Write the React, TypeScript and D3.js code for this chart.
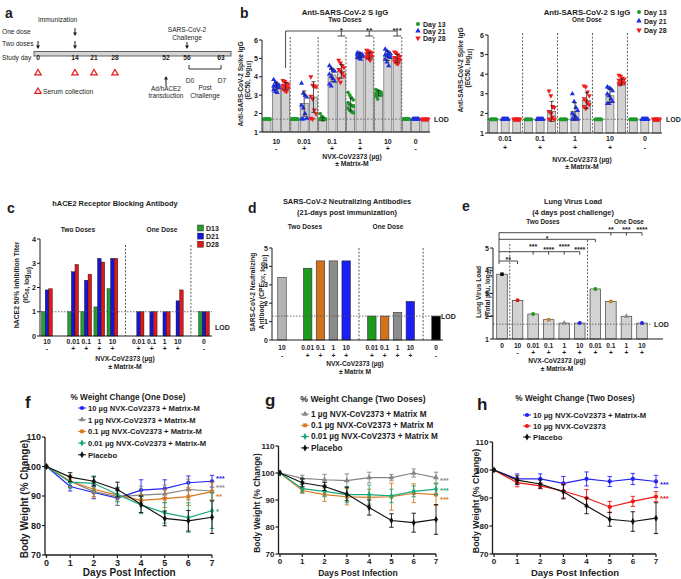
import React from 'react';
import * as d3 from 'd3';

const FONT = "'Liberation Sans', Arial, Helvetica, sans-serif";
const INK = '#1c1c1c';

// ---------------- a : study design ----------------
const aDayTicks = [0, 14, 21, 28, 52, 56, 63];
const aSerumDays = [0, 14, 21, 28];
const aTwoDoseDays = [0, 14];
const aOneDoseDays = [14];
const aChallengeDay = 56;
const aTransductionDay = 52;
const aPostDays = [56, 63];
const aPostLabels = ['D0', 'D7'];

// ---------------- b : anti-S IgG ----------------
const bDayNames = ['Day 13', 'Day 21', 'Day 28'];
const bDayColors = ['#1e9a2a', '#1f2fe0', '#f01c1c'];
const bLOD = 1.7;
const bTicks = [1, 2, 3, 4, 5, 6];
const L = 1.7;
const bTwoGroups = ['10', '0.01', '0.1', '1', '10', '0'];
const bTwoMatrix = ['-', '+', '+', '+', '+', '-'];
const bTwoMeans = [
  [1.7, 3.5, 3.5],
  [1.7, 2.55, 2.9],
  [1.7, 4.1, 4.3],
  [2.5, 5.15, 5.15],
  [3.1, 5.15, 5.0],
  [1.7, 1.7, 1.7],
];
const bTwoPoints = [
  [[L, L, L, L, L, L, L, L, L, L], [3.85, 3.7, 3.6, 3.55, 3.5, 3.5, 3.45, 3.4, 3.3, 3.2, 3.15], [3.8, 3.75, 3.65, 3.6, 3.55, 3.5, 3.45, 3.4, 3.35, 3.25, 3.2]],
  [[L, L, L, L, L, L, L, L, L, L], [3.65, 3.1, 3.0, 2.9, 2.45, 2.3, 2.0, 1.75, 1.7, 1.7], [4.0, 3.55, 3.5, 3.45, 2.95, 2.8, 2.2, 2.0, 1.75, 1.7]],
  [[2.0, 1.85, 1.75, L, L, L, L, L, L, L], [4.6, 4.45, 4.35, 4.3, 4.15, 4.0, 3.9, 3.75, 3.6, 3.5], [4.9, 4.75, 4.6, 4.5, 4.4, 4.3, 4.2, 4.05, 3.9, 3.7]],
  [[3.15, 3.0, 2.85, 2.75, 2.6, 2.5, 2.45, 2.4, 2.3, 2.2, 2.1, 2.05], [5.3, 5.28, 5.25, 5.2, 5.2, 5.15, 5.1, 5.1, 5.05, 5.0, 4.95], [5.45, 5.4, 5.35, 5.3, 5.25, 5.2, 5.15, 5.1, 5.05, 5.0, 4.9]],
  [[3.3, 3.25, 3.2, 3.15, 3.1, 3.1, 3.05, 3.0, 2.95, 2.8], [5.5, 5.4, 5.3, 5.25, 5.2, 5.15, 5.1, 5.05, 4.95, 4.8, 4.6], [5.35, 5.3, 5.2, 5.1, 5.05, 5.0, 4.95, 4.9, 4.85, 4.75, 4.7]],
  [[L, L, L, L, L, L, L, L, L, L], [L, L, L, L, L, L, L, L, L, L], [L, L, L, L, L, L, L, L, L, L]],
];
const bTwoSigRef = 0;
const bTwoSigGroups = [2, 3, 4];
const bTwoSigLabels = ['*', '**', '***'];

const bOneGroups = ['0.01', '0.1', '1', '10', '0'];
const bOneMatrix = ['+', '+', '+', '+', '-'];
const bOneMeans = [
  [1.7, 1.7, 1.7],
  [1.7, 1.7, 2.1],
  [1.7, 2.1, 2.65],
  [1.7, 2.9, 3.6],
  [1.7, 1.7, 1.7],
];
const bOnePoints = [
  [[L, L, L, L, L, L, L, L, L, L], [L, L, L, L, L, L, L, L, L, L], [L, L, L, L, L, L, L, L, L, L]],
  [[L, L, L, L, L, L, L, L, L, L], [L, L, L, L, L, L, L, L, L, L], [3.15, 2.9, 2.35, 2.3, 2.1, 2.0, 1.8, 1.7, 1.7, 1.7]],
  [[L, L, L, L, L, L, L, L, L, L], [3.0, 2.6, 2.3, 2.15, 2.0, 1.9, 1.8, 1.7, 1.7, 1.7], [3.4, 3.35, 3.1, 2.9, 2.75, 2.65, 2.55, 2.45, 2.35, 2.25]],
  [[L, L, L, L, L, L, L, L, L, L], [3.35, 3.3, 3.25, 3.15, 3.0, 2.9, 2.75, 2.6, 2.5, 2.5], [3.95, 3.9, 3.8, 3.75, 3.7, 3.65, 3.6, 3.55, 3.5, 3.5]],
  [[L, L, L, L, L, L, L, L, L, L], [L, L, L, L, L, L, L, L, L, L], [L, L, L, L, L, L, L, L, L, L]],
];

// ---------------- c : hACE2 blocking ----------------
const cGroups = ['10', '0.01', '0.1', '1', '10', '0.01', '0.1', '1', '10', '0'];
const cMatrix = ['-', '+', '+', '+', '+', '+', '+', '+', '+', '-'];
const cSections = ['two-', 'two+', 'two+', 'two+', 'two+', 'one', 'one', 'one', 'one', 'none'];
const cDayNames = ['D13', 'D21', 'D28'];
const cDayColors = ['#22a02a', '#1515d6', '#e01818'];
const cD13 = [1, 1, 1, 1.2, 1.95, null, null, null, null, 1];
const cD21 = [1.9, 2.65, 2.3, 3.2, 3.2, 1, 1, 1, 1.45, 1];
const cD28 = [1.95, 2.95, 2.55, 3.05, 3.2, 1, 1, 1, 1.9, 1];
const cTicks = [0, 1, 2, 3, 4];
const cLOD = 1;

// ---------------- d : neutralizing ----------------
const dGroups = ['10', '0.01', '0.1', '1', '10', '0.01', '0.1', '1', '10', '0'];
const dMatrix = ['-', '+', '+', '+', '+', '+', '+', '+', '+', '-'];
const dSections = ['two-', 'two+', 'two+', 'two+', 'two+', 'one', 'one', 'one', 'one', 'none'];
const dValues = [3.4, 3.9, 4.3, 4.3, 4.3, 1.3, 1.3, 1.5, 2.1, 1.3];
const dColors = ['#b4b4b4', '#1b9a1b', '#d2721c', '#8c8c8c', '#1c1cf5', '#1b9a1b', '#d2721c', '#8c8c8c', '#1c1cf5', '#000000'];
const dTicks = [0, 1, 2, 3, 4, 5];
const dLOD = 1.3;

// ---------------- e : lung virus load ----------------
const eGroups = ['0', '10', '0.01', '0.1', '1', '10', '0.01', '0.1', '1', '10'];
const eMatrix = ['', '-', '+', '+', '+', '+', '+', '+', '+', '+'];
const eValues = [3.85, 2.7, 2.1, 1.85, 1.7, 1.7, 3.2, 2.65, 2.0, 1.7];
const eColors = ['#000000', '#d81818', '#1b9a1b', '#c8802a', '#8c8c8c', '#1c1cf5', '#1b9a1b', '#c8802a', '#8c8c8c', '#1c1cf5'];
const eTicks = [1, 2, 3, 4, 5];
const eLOD = 1.65;
const eSigRows = [
  { targets: [7, 8, 9], labels: ['**', '***', '****'] },
  { targets: [6], labels: ['*'] },
  { targets: [2, 3, 4, 5], labels: ['***', '****', '****', '****'] },
  { targets: [1], labels: ['**'] },
];

// ---------------- f, g, h : weight change ----------------
const wDays = [0, 1, 2, 3, 4, 5, 6, 7];
const wTicksY = [70, 80, 90, 100, 110];
const placeboMean = [100, 96.4, 95, 92.2, 87.2, 82.4, 81.6, 82.8];
const placeboSD = [0, 1.5, 1.5, 2.5, 2.8, 2.5, 3.5, 5.5];

const fLabels = ['10 µg NVX-CoV2373 + Matrix-M', '1 µg NVX-CoV2373  + Matrix-M', '0.1 µg NVX-CoV2373  + Matrix-M', '0.01 µg NVX-CoV2373 + Matrix-M', 'Placebo'];
const f10Mean = [100, 93.2, 91.2, 89.3, 92, 92.5, 94.5, 95];
const f10SD = [0, 1.5, 2, 2.5, 3.5, 3, 2.3, 2];
const f1Mean = [100, 95, 91.5, 89.8, 90.3, 90.7, 92.2, 91.7];
const f1SD = [0, 2, 2.5, 3, 3, 3, 3.5, 3];
const f01Mean = [100, 95, 92.3, 90.3, 88.5, 89.1, 89.8, 91.5];
const f01SD = [0, 2, 2.5, 2, 2, 3, 3, 3];
const f001Mean = [100, 94.7, 94.3, 90.5, 87, 84.3, 82.7, 85];
const f001SD = [0, 2, 2.5, 2.5, 3, 3.5, 5, 6];
const fSig = ['***', '***', '**', '*', ''];

const gLabels = ['1 µg NVX-CoV2373 + Matrix M', '0.1 µg NVX-CoV2373 + Matrix M', '0.01 µg NVX-CoV2373 + Matrix M', 'Placebo'];
const g1Mean = [100, 98, 97.5, 97.2, 98.3, 98.3, 100, 98.3];
const g1SD = [0, 1.2, 2, 2.5, 2, 1.2, 1.5, 2];
const g01Mean = [100, 93.5, 92, 91.2, 91, 91.2, 92.5, 92];
const g01SD = [0, 1, 2.5, 3, 3, 5, 3.5, 4];
const g001Mean = [100, 94.2, 93.2, 92, 92, 91.5, 93.2, 94];
const g001SD = [0, 1.5, 2, 3, 3.5, 2.5, 2, 2];
const gSig = ['***', '***', '***', ''];

const hLabels = ['10 µg NVX-CoV2373 + Matrix-M', '10 µg NVX-CoV2373', 'Placebo'];
const h10MMean = [100, 96.8, 96.8, 95.2, 96.8, 95.9, 96.8, 95.9];
const h10MSD = [0, 1.8, 1.8, 2.5, 2.5, 1.8, 2, 2.2];
const h10Mean = [100, 95.5, 94.3, 92.5, 90, 86.8, 88.8, 90.5];
const h10SD = [0, 1.5, 1, 2.5, 3, 2, 1.8, 1.8];
const hSig = ['***', '***', ''];

// ---------------- helpers ----------------
const T = ({ x, y, s = 7, a = 'start', w = 'bold', c = INK, rot, children }: any) => (
  <text
    x={rot !== undefined ? 0 : x}
    y={rot !== undefined ? 0 : y}
    transform={rot !== undefined ? `translate(${x},${y}) rotate(${rot})` : undefined}
    fontSize={s}
    textAnchor={a}
    fontWeight={w}
    fill={c}
    stroke="none"
    fontFamily={FONT}
  >
    {children}
  </text>
);

const Sub = ({ s, children }: any) => (
  <>
    <tspan dy={s * 0.25} fontSize={s * 0.7}>{children}</tspan>
    <tspan dy={-s * 0.25}>{''}</tspan>
  </>
);

const Sym = ({ x, y, type, size = 10, fill, rot = 0 }: any) => {
  const d = d3.symbol().type(type).size(size)() as string;
  return <path d={d} transform={`translate(${x},${y}) rotate(${rot})`} fill={fill} stroke="none" />;
};

const dayTypes = [d3.symbolCircle, d3.symbolTriangle, d3.symbolTriangle];
const dayRot = [0, 0, 180];

// ---------------- panel a ----------------
function PanelA() {
  const x = d3.scaleLinear().domain(aDayTicks).range([38, 75, 94, 115, 166, 187, 221]);
  const down = (cx: number, y1: number, y2: number, k: string) => (
    <g key={k}>
      <line x1={cx} x2={cx} y1={y1} y2={y2 - 3} stroke={INK} strokeWidth={1} />
      <path d={`M${cx - 2},${y2 - 3.5}L${cx + 2},${y2 - 3.5}L${cx},${y2}Z`} fill={INK} />
    </g>
  );
  const tri = (cx: number, cy: number, k: string) => (
    <path key={k} d={`M${cx},${cy - 3}L${cx + 3.2},${cy + 2.4}L${cx - 3.2},${cy + 2.4}Z`} fill="none" stroke="#e41c1c" strokeWidth={1.2} />
  );
  const td = x(aTransductionDay);
  return (
    <g>
      <T x={5} y={18} s={14}>a</T>
      <T x={38} y={21.5} s={6.6} w="normal">Immunization</T>
      <T x={2} y={34} s={6.6} w="normal">One dose</T>
      <T x={2} y={45.5} s={6.6} w="normal">Two doses</T>
      {aOneDoseDays.map((d) => down(x(d), 28, 36, 'o' + d))}
      {aTwoDoseDays.map((d) => down(x(d), 41, 49, 't' + d))}
      <T x={x(aChallengeDay)} y={32} s={6.6} w="normal" a="middle">SARS-CoV-2</T>
      <T x={x(aChallengeDay)} y={40} s={6.6} w="normal" a="middle">Challenge</T>
      {down(x(aChallengeDay), 42, 49, 'ch')}
      <rect x={34} y={51.5} width={197} height={4.5} fill="#d4d4d4" stroke="#444" strokeWidth={0.8} />
      <T x={2} y={60} s={6.6} w="normal">Study day</T>
      {aDayTicks.map((d) => (
        <T key={d} x={x(d)} y={60} s={6.6} a="middle">{d}</T>
      ))}
      {aSerumDays.map((d) => tri(x(d), 72.5, 's' + d))}
      {tri(38, 91, 'leg')}
      <T x={43} y={93.5} s={6.8} w="normal">Serum collection</T>
      <line x1={td} x2={td} y1={86} y2={79} stroke={INK} strokeWidth={1} />
      <path d={`M${td - 2},${79.5}L${td + 2},${79.5}L${td},${76}Z`} fill={INK} />
      <T x={td} y={90.5} s={6.4} w="normal" a="middle">Ad/hACE2</T>
      <T x={td} y={97.5} s={6.4} w="normal" a="middle">transduction</T>
      <path d={`M${x(aPostDays[0]) + 2},65V69H${x(aPostDays[1])}V65`} fill="none" stroke={INK} strokeWidth={0.9} />
      {aPostDays.map((d, i) => (
        <T key={d} x={i === 0 ? x(d) + 3 : x(d) + 1} y={83} s={6.6} w="normal" a="middle">{aPostLabels[i]}</T>
      ))}
      <T x={(x(aPostDays[0]) + x(aPostDays[1])) / 2 + 1} y={89.5} s={6.6} w="normal" a="middle">Post</T>
      <T x={(x(aPostDays[0]) + x(aPostDays[1])) / 2 + 1} y={97.5} s={6.6} w="normal" a="middle">Challenge</T>
    </g>
  );
}

// ---------------- panel b ----------------
function IgGPanel(p: any) {
  const y = d3.scaleLinear().domain([1, 6]).range([p.yBot, p.yTop]);
  const n = p.groups.length * 3;
  const x = d3.scalePoint<number>().domain(d3.range(n)).range([p.x0, p.x1]);
  const step = x.step();
  const bw = p.bw;
  const bars = p.means.flatMap((g: number[], gi: number) =>
    g.map((m: number, di: number) => ({ gi, di, m, pts: p.points[gi][di] as number[], cx: x(gi * 3 + di) as number }))
  );
  return (
    <g>
      {d3.range(1, p.groups.length).map((gi) => {
        const sx = (x(gi * 3) as number) - step / 2;
        return <line key={gi} x1={sx} x2={sx} y1={p.sepTop} y2={p.yBot} stroke="#333" strokeWidth={0.8} strokeDasharray="2,1.6" />;
      })}
      {bars.map((b: any) => (
        <rect key={`r${b.gi}-${b.di}`} x={b.cx - bw / 2} y={y(b.m)} width={bw} height={p.yBot - y(b.m)} fill="#d2d2d2" stroke="#555" strokeWidth={0.6} />
      ))}
      <line x1={p.axisX} x2={p.axisEnd} y1={y(bLOD)} y2={y(bLOD)} stroke="#666" strokeWidth={0.8} strokeDasharray="2,1.5" />
      {bars.map((b: any) => {
        const pts = [...b.pts].sort((u, v) => v - u);
        const allLod = pts.every((v) => v === bLOD);
        return pts.map((v, i) => {
          const off = allLod ? ((i + 0.5) / pts.length - 0.5) * bw * 0.85 : ((i % 4) - 1.5) * bw * 0.22;
          return <Sym key={`p${b.gi}-${b.di}-${i}`} x={b.cx + off} y={y(v)} type={dayTypes[b.di]} rot={dayRot[b.di]} size={11} fill={bDayColors[b.di]} />;
        });
      })}
      {bars.map((b: any) => {
        const sd = d3.deviation(b.pts as number[]) || 0;
        if (sd < 0.03) return null;
        const y1 = y(b.m - sd), y2 = y(b.m + sd);
        return (
          <g key={`e${b.gi}-${b.di}`} stroke="#222" strokeWidth={0.8}>
            <line x1={b.cx} x2={b.cx} y1={y1} y2={y2} />
            <line x1={b.cx - 2} x2={b.cx + 2} y1={y1} y2={y1} />
            <line x1={b.cx - 2} x2={b.cx + 2} y1={y2} y2={y2} />
          </g>
        );
      })}
      <line x1={p.axisX} x2={p.axisX} y1={p.yTop} y2={p.yBot} stroke={INK} strokeWidth={1} />
      <line x1={p.axisX} x2={p.axisEnd} y1={p.yBot} y2={p.yBot} stroke={INK} strokeWidth={1} />
      {bTicks.map((t) => (
        <g key={t}>
          <line x1={p.axisX - 3} x2={p.axisX} y1={y(t)} y2={y(t)} stroke={INK} strokeWidth={1} />
          <T x={p.axisX - 4} y={y(t) + 2.5} a="end" s={7}>{t}</T>
        </g>
      ))}
      {p.groups.map((g: string, gi: number) => (
        <g key={gi}>
          <T x={x(gi * 3 + 1)} y={p.numY} a="middle" s={7}>{g}</T>
          <T x={x(gi * 3 + 1)} y={p.signY} a="middle" s={7}>{p.matrix[gi]}</T>
        </g>
      ))}
      <T x={p.axisEnd + 4} y={y(bLOD) + 2.5} s={7}>LOD</T>
      {bDayNames.map((d, i) => (
        <g key={d}>
          <Sym x={p.legX} y={p.legY + i * p.legStep} type={dayTypes[i]} rot={dayRot[i]} size={13} fill={bDayColors[i]} />
          <T x={p.legX + 5} y={p.legY + i * p.legStep + 2.5} s={7}>{d}</T>
        </g>
      ))}
      {p.sig && (() => {
        const rx = x(bTwoSigRef * 3 + 2) as number;
        const tx = bTwoSigGroups.map((g) => x(g * 3 + 2) as number);
        const ly = 31;
        return (
          <g>
            <g stroke={INK} strokeWidth={0.8} fill="none">
              <line x1={rx} x2={tx[tx.length - 1]} y1={ly} y2={ly} />
              <line x1={rx} x2={rx} y1={ly} y2={68} />
              {tx.map((t, i) => (
                <g key={i}>
                  <line x1={t} x2={t} y1={ly} y2={ly + 5} />
                  <line x1={t - 4} x2={t + 4} y1={ly + 5} y2={ly + 5} />
                </g>
              ))}
            </g>
            {tx.map((t, i) => (
              <T key={'l' + i} x={t} y={ly + 1.5} a="middle" s={8}>{bTwoSigLabels[i]}</T>
            ))}
          </g>
        );
      })()}
    </g>
  );
}

// ---------------- slot layout helper for c / d ----------------
function slotLayout(sections: string[]) {
  const slots: string[] = [];
  const groupSlot: string[] = [];
  const gapSlots: string[] = [];
  sections.forEach((s, i) => {
    if (i > 0 && s !== sections[i - 1]) {
      const g = 'gap' + i;
      slots.push(g);
      gapSlots.push(g);
    }
    slots.push('g' + i);
    groupSlot.push('g' + i);
  });
  return { slots, groupSlot, gapSlots };
}

function PanelC() {
  const { slots, groupSlot, gapSlots } = slotLayout(cSections);
  const x = d3.scalePoint<string>().domain(slots).range([47, 204]);
  const y = d3.scaleLinear().domain([0, 4]).range([336, 239]);
  const inner = d3.scaleBand<number>().domain([0, 1, 2]).range([-5.4, 5.4]);
  const series = [cD13, cD21, cD28];
  return (
    <g>
      <T x={7} y={213} s={14}>c</T>
      <T x={115} y={206} a="middle" s={7.4}>hACE2 Receptor Blocking Antibody</T>
      <T x={78} y={232} a="middle" s={6.6}>Two Doses</T>
      <T x={162} y={232} a="middle" s={6.6}>One Dose</T>
      {gapSlots.slice(1).map((g) => (
        <line key={g} x1={x(g)} x2={x(g)} y1={245} y2={336} stroke="#333" strokeWidth={0.8} strokeDasharray="2,1.6" />
      ))}
      {groupSlot.map((gs, gi) =>
        series.map((s, di) => {
          const v = s[gi];
          if (v === null || v === undefined) return null;
          const bx = (x(gs) as number) + (inner(di) as number);
          return <rect key={gs + di} x={bx} y={y(v)} width={inner.bandwidth()} height={336 - y(v)} fill={cDayColors[di]} stroke="#111" strokeWidth={0.4} />;
        })
      )}
      <line x1={40} x2={212} y1={y(cLOD)} y2={y(cLOD)} stroke="#555" strokeWidth={0.8} strokeDasharray="1.5,1.5" />
      <line x1={40} x2={40} y1={239} y2={336} stroke={INK} strokeWidth={1} />
      <line x1={40} x2={212} y1={336} y2={336} stroke={INK} strokeWidth={1} />
      {cTicks.map((t) => (
        <g key={t}>
          <line x1={37} x2={40} y1={y(t)} y2={y(t)} stroke={INK} />
          <T x={36} y={y(t) + 2.5} a="end" s={7.2}>{t}</T>
        </g>
      ))}
      {groupSlot.map((gs, gi) => (
        <g key={gs}>
          <T x={x(gs)} y={343.5} a="middle" s={6.8}>{cGroups[gi]}</T>
          <T x={x(gs)} y={351} a="middle" s={6.8}>{cMatrix[gi]}</T>
        </g>
      ))}
      <T x={125} y={361} a="middle" s={6.8}>NVX-CoV2373 (µg)</T>
      <T x={125} y={369} a="middle" s={6.8}>± Matrix-M</T>
      <T x={215} y={330} s={7}>LOD</T>
      {cDayNames.map((d, i) => (
        <g key={d}>
          <rect x={197.5} y={225 + i * 8.1} width={6} height={6} fill={cDayColors[i]} stroke="#111" strokeWidth={0.4} />
          <T x={206} y={230.5 + i * 8.1} s={7}>{d}</T>
        </g>
      ))}
      <T x={18.5} y={285} rot={-90} a="middle" s={6.8}>hACE2 50% Inhibition Titer</T>
      <T x={27.5} y={285} rot={-90} a="middle" s={6.8}>
        (IC<Sub s={6.8}>50</Sub>, log<Sub s={6.8}>10</Sub>)
      </T>
    </g>
  );
}

function PanelD() {
  const { slots, groupSlot, gapSlots } = slotLayout(dSections);
  const x = d3.scalePoint<string>().domain(slots).range([282, 436]);
  const y = d3.scaleLinear().domain([0, 5]).range([340, 248]);
  const bw = x.step() * 0.66;
  return (
    <g>
      <T x={248} y={213} s={14}>d</T>
      <T x={347} y={204} a="middle" s={7.4}>SARS-CoV-2 Neutralizing Antibodies</T>
      <T x={347} y={215} a="middle" s={7.4}>(21-days post immunization)</T>
      <T x={305} y={229} a="middle" s={6.6}>Two Doses</T>
      <T x={388} y={229} a="middle" s={6.6}>One Dose</T>
      {gapSlots.slice(1).map((g) => (
        <line key={g} x1={x(g)} x2={x(g)} y1={248} y2={340} stroke="#333" strokeWidth={0.8} strokeDasharray="2,1.6" />
      ))}
      {groupSlot.map((gs, gi) => (
        <rect key={gs} x={(x(gs) as number) - bw / 2} y={y(dValues[gi])} width={bw} height={340 - y(dValues[gi])} fill={dColors[gi]} stroke="#333" strokeWidth={0.6} />
      ))}
      <line x1={272} x2={441} y1={y(dLOD)} y2={y(dLOD)} stroke="#555" strokeWidth={0.8} strokeDasharray="1.5,1.5" />
      <line x1={272} x2={272} y1={248} y2={340} stroke={INK} strokeWidth={1} />
      <line x1={272} x2={443} y1={340} y2={340} stroke={INK} strokeWidth={1} />
      {dTicks.map((t) => (
        <g key={t}>
          <line x1={269} x2={272} y1={y(t)} y2={y(t)} stroke={INK} />
          <T x={268} y={y(t) + 2.5} a="end" s={7}>{t}</T>
        </g>
      ))}
      {groupSlot.map((gs, gi) => (
        <g key={gs}>
          <T x={x(gs)} y={350} a="middle" s={6.6}>{dGroups[gi]}</T>
          <T x={x(gs)} y={357.5} a="middle" s={6.6}>{dMatrix[gi]}</T>
        </g>
      ))}
      <T x={355} y={366} a="middle" s={6.6}>NVX-CoV2373 (µg)</T>
      <T x={355} y={374} a="middle" s={6.6}>± Matrix M</T>
      <T x={441} y={y(dLOD) + 2.5} s={7}>LOD</T>
      <T x={255} y={292} rot={-90} a="middle" s={6.6}>SARS-CoV-2 Neutralizing</T>
      <T x={263.5} y={292} rot={-90} a="middle" s={6.6}>
        Antibody (CPE<Sub s={6.6}>100</Sub>, log<Sub s={6.6}>10</Sub>)
      </T>
    </g>
  );
}

function PanelE() {
  const x = d3.scalePoint<number>().domain(d3.range(eGroups.length)).range([502, 642]);
  const y = d3.scaleLinear().domain([1, 5]).range([339, 248]);
  const step = x.step();
  const bw = step * 0.68;
  const markTypes = [d3.symbolSquare, d3.symbolCircle, d3.symbolCircle, d3.symbolSquare, d3.symbolTriangle, d3.symbolCircle, d3.symbolCircle, d3.symbolSquare, d3.symbolTriangle, d3.symbolCircle];
  const left = (x(0) as number) - 3;
  const rowY = [232.7, 239.3, 251.7, 261];
  const labelOffset = (ri: number, k: number, single: boolean) =>
    single ? (ri === 1 ? 1.4 : 0.7) : ri === 2 ? (k % 2 === 0 ? -2.7 : 0.6) : -0.4;
  return (
    <g>
      <T x={462} y={211} s={14}>e</T>
      <T x={573} y={204} a="middle" s={7.4}>Lung Virus Load</T>
      <T x={573} y={215} a="middle" s={7.4}>(4 days post challenge)</T>
      <T x={543} y={223.5} a="middle" s={6.4}>Two Doses</T>
      <T x={629} y={223.5} a="middle" s={6.4}>One Dose</T>
      {[1, 6].map((i) => {
        const sx = (x(i) as number) - step / 2;
        return <line key={i} x1={sx} x2={sx} y1={i === 1 ? 244 : 240} y2={339} stroke="#333" strokeWidth={0.8} strokeDasharray="2,1.6" />;
      })}
      {eValues.map((v, i) => (
        <rect key={i} x={(x(i) as number) - bw / 2} y={y(v)} width={bw} height={339 - y(v)} fill="#d2d2d2" stroke="#444" strokeWidth={0.7} />
      ))}
      {eValues.map((v, i) => (
        <Sym key={'m' + i} x={x(i)} y={y(v)} type={markTypes[i]} size={12} fill={eColors[i]} />
      ))}
      <line x1={493} x2={652} y1={y(eLOD)} y2={y(eLOD)} stroke="#555" strokeWidth={0.8} strokeDasharray="1.5,1.5" />
      <line x1={493} x2={493} y1={248} y2={339} stroke={INK} strokeWidth={1} />
      <line x1={493} x2={663} y1={339} y2={339} stroke={INK} strokeWidth={1} />
      {eTicks.map((t) => (
        <g key={t}>
          <line x1={490} x2={493} y1={y(t)} y2={y(t)} stroke={INK} />
          <T x={489} y={y(t) + 2.5} a="end" s={7}>{t}</T>
        </g>
      ))}
      {eGroups.map((g, i) => (
        <g key={i}>
          <T x={x(i)} y={347.5} a="middle" s={6.6}>{g}</T>
          <T x={x(i)} y={355} a="middle" s={6.6}>{eMatrix[i]}</T>
        </g>
      ))}
      <T x={557} y={362.5} a="middle" s={6.6}>NVX-CoV2373 (µg)</T>
      <T x={557} y={370.5} a="middle" s={6.6}>± Matrix-M</T>
      <T x={654} y={y(eLOD) + 2.5} s={7}>LOD</T>
      <T x={481} y={292} rot={-90} a="middle" s={6.6}>Lung Virus Load</T>
      <T x={489.5} y={292} rot={-90} a="middle" s={6.6}>
        (Total pfu, log<Sub s={6.6}>10</Sub>)
      </T>
      <g stroke={INK} strokeWidth={0.8} fill="none">
        <line x1={left} x2={left} y1={rowY[0]} y2={rowY[3] + 3} />
        {eSigRows.map((r, ri) => {
          const ly = rowY[ri];
          const txs = r.targets.map((t) => x(t) as number);
          const end = txs[txs.length - 1];
          return (
            <g key={ri}>
              <line x1={left} x2={end} y1={ly} y2={ly} />
              {txs.map((t, k) => (
                <line key={k} x1={t} x2={t} y1={ly} y2={ly + 3} />
              ))}
            </g>
          );
        })}
      </g>
      {eSigRows.map((r, ri) => {
        const ly = rowY[ri];
        const txs = r.targets.map((t) => x(t) as number);
        const end = txs[txs.length - 1];
        const single = txs.length === 1;
        return txs.map((t, k) => (
          <T key={ri + '-' + k} x={single ? (left + end) / 2 : t} y={ly + labelOffset(ri, k, single)} a="middle" s={7}>
            {r.labels[k]}
          </T>
        ));
      })}
    </g>
  );
}

// ---------------- weight panels ----------------
function WeightPanel(p: any) {
  const x = d3.scaleLinear().domain([0, 7]).range([p.x0, p.x1]);
  const y = d3.scaleLinear().domain([70, 110]).range([p.yBot, p.yTop]);
  const line = d3.line<number>().x((_, i) => x(wDays[i])).y((v) => y(v));
  const ax = p.x0 - 1.5;
  const sigSize = 7.5;
  return (
    <g>
      <T x={p.letter[1]} y={p.letter[2]} s={17}>{p.letter[0]}</T>
      <T x={p.titleX} y={p.titleY} a="middle" s={p.titleSize}>{p.title}</T>
      {p.series.map((s: any, i: number) => (
        <g key={'lg' + i}>
          <line x1={p.legX - 4} x2={p.legX + 4} y1={p.legY + i * p.legStep} y2={p.legY + i * p.legStep} stroke={s.color} strokeWidth={1} />
          <Sym x={p.legX} y={p.legY + i * p.legStep} type={s.shape} size={14} fill={s.color} />
          <T x={p.legX + 6} y={p.legY + i * p.legStep + 2.8} s={p.legSize}>{s.label}</T>
        </g>
      ))}
      {p.series.map((s: any, i: number) => (
        <g key={'s' + i}>
          <path d={line(s.mean) as string} fill="none" stroke={s.color} strokeWidth={1.2} />
          {s.mean.map((m: number, k: number) => {
            const sd = s.sd[k];
            if (!sd) return null;
            const cx = x(wDays[k]);
            return (
              <g key={k} stroke={s.color} strokeWidth={0.9}>
                <line x1={cx} x2={cx} y1={y(m - sd)} y2={y(m + sd)} />
                <line x1={cx - 2.2} x2={cx + 2.2} y1={y(m - sd)} y2={y(m - sd)} />
                <line x1={cx - 2.2} x2={cx + 2.2} y1={y(m + sd)} y2={y(m + sd)} />
              </g>
            );
          })}
          {s.mean.map((m: number, k: number) => (
            <Sym key={'p' + k} x={x(wDays[k])} y={y(m)} type={s.shape} size={14} fill={s.color} />
          ))}
          {s.sig && (
            <T x={x(7) + 4} y={y(s.mean[7]) + sigSize * 0.58 + s.sigDy} s={sigSize} c={s.color}>{s.sig}</T>
          )}
        </g>
      ))}
      <line x1={ax} x2={ax} y1={p.yTop} y2={p.yBot} stroke={INK} strokeWidth={1.3} />
      <line x1={ax} x2={p.x1} y1={p.yBot} y2={p.yBot} stroke={INK} strokeWidth={1.3} />
      {wTicksY.map((t) => (
        <g key={t}>
          <line x1={ax - 3} x2={ax} y1={y(t)} y2={y(t)} stroke={INK} strokeWidth={1.2} />
          <T x={ax - 4} y={y(t) + p.tickSize * 0.36} a="end" s={p.tickSize}>{t}</T>
        </g>
      ))}
      {wDays.map((d) => (
        <g key={d}>
          <line x1={x(d)} x2={x(d)} y1={p.yBot} y2={p.yBot + 3} stroke={INK} strokeWidth={1.2} />
          <T x={x(d)} y={p.yBot + 4 + p.tickSize * 0.8} a="middle" s={p.tickSize}>{d}</T>
        </g>
      ))}
      <T x={(p.x0 + p.x1) / 2} y={576} a="middle" s={p.xTitleSize}>Days Post Infection</T>
      <T x={p.yTitleX} y={(p.yTop + p.yBot) / 2 + 3} rot={-90} a="middle" s={p.yTitleSize}>Body Weight (% Change)</T>
    </g>
  );
}

const C_BLUE = '#2424f0';
const C_GRAY = '#858585';
const C_ORANGE = '#d9771c';
const C_GREEN = '#19a87a';
const C_BLACK = '#111111';
const C_RED = '#f01414';

export default function App() {
  const fSeries = [
    { label: fLabels[0], color: C_BLUE, shape: d3.symbolCircle, mean: f10Mean, sd: f10SD, sig: fSig[0], sigDy: -4.3 },
    { label: fLabels[1], color: C_GRAY, shape: d3.symbolTriangle, mean: f1Mean, sd: f1SD, sig: fSig[1], sigDy: -5.5 },
    { label: fLabels[2], color: C_ORANGE, shape: d3.symbolSquare, mean: f01Mean, sd: f01SD, sig: fSig[2], sigDy: 2.6 },
    { label: fLabels[3], color: C_GREEN, shape: d3.symbolDiamond, mean: f001Mean, sd: f001SD, sig: fSig[3], sigDy: -1.5 },
    { label: fLabels[4], color: C_BLACK, shape: d3.symbolDiamond, mean: placeboMean, sd: placeboSD, sig: fSig[4], sigDy: 0 },
  ];
  const gSeries = [
    { label: gLabels[0], color: C_GRAY, shape: d3.symbolTriangle, mean: g1Mean, sd: g1SD, sig: gSig[0], sigDy: 0.7 },
    { label: gLabels[1], color: C_ORANGE, shape: d3.symbolSquare, mean: g01Mean, sd: g01SD, sig: gSig[1], sigDy: 3.2 },
    { label: gLabels[2], color: C_GREEN, shape: d3.symbolDiamond, mean: g001Mean, sd: g001SD, sig: gSig[2], sigDy: -0.6 },
    { label: gLabels[3], color: C_BLACK, shape: d3.symbolDiamond, mean: placeboMean, sd: placeboSD, sig: gSig[3], sigDy: 0 },
  ];
  const hSeries = [
    { label: hLabels[0], color: C_BLUE, shape: d3.symbolCircle, mean: h10MMean, sd: h10MSD, sig: hSig[0], sigDy: 1.2 },
    { label: hLabels[1], color: C_RED, shape: d3.symbolCircle, mean: h10Mean, sd: h10SD, sig: hSig[1], sigDy: 0 },
    { label: hLabels[2], color: C_BLACK, shape: d3.symbolDiamond, mean: placeboMean, sd: placeboSD, sig: hSig[2], sigDy: 0 },
  ];
  return (
    <svg width={681} height={579} style={{ position: 'absolute', left: 0, top: 0, background: '#fff' }} fontFamily={FONT}>
      <rect width={681} height={579} fill="#fff" />
      <PanelA />
      {/* b */}
      <T x={240} y={18} s={14}>b</T>
      <T x={345} y={14.5} a="middle" s={7.8}>Anti-SARS-CoV-2 S IgG</T>
      <T x={345} y={21.5} a="middle" s={6.4}>Two Doses</T>
      <T x={242.5} y={84} rot={-90} a="middle" s={6.5}>Anti-SARS-CoV-2 Spike IgG</T>
      <T x={249.5} y={80} rot={-90} a="middle" s={6.5}>
        (EC50, log<Sub s={6.5}>10</Sub>)
      </T>
      <IgGPanel
        groups={bTwoGroups} matrix={bTwoMatrix} means={bTwoMeans} points={bTwoPoints}
        x0={267} x1={425} yTop={40} yBot={132} axisX={262} axisEnd={430} sepTop={37} bw={8}
        numY={144} signY={151} legX={418} legY={24} legStep={7} sig
      />
      <T x={352} y={159} a="middle" s={6.8}>NVX-CoV2373 (µg)</T>
      <T x={352} y={166} a="middle" s={6.8}>± Matrix-M</T>

      <T x={587} y={14.5} a="middle" s={7.8}>Anti-SARS-CoV-2 S IgG</T>
      <T x={587} y={22} a="middle" s={6.4}>One Dose</T>
      <T x={463} y={70} rot={-90} a="middle" s={6.5}>Anti-SARS-CoV-2 Spike IgG</T>
      <T x={470} y={68} rot={-90} a="middle" s={6.5}>
        (EC50, log<Sub s={6.5}>10</Sub>)
      </T>
      <IgGPanel
        groups={bOneGroups} matrix={bOneMatrix} means={bOneMeans} points={bOnePoints}
        x0={493.5} x1={656.5} yTop={35} yBot={133} axisX={488} axisEnd={662} sepTop={33} bw={8}
        numY={141} signY={150} legX={639} legY={12} legStep={9}
      />
      <T x={582} y={162} a="middle" s={6.8}>NVX-CoV2373 (µg)</T>
      <T x={582} y={169} a="middle" s={6.8}>± Matrix-M</T>

      <PanelC />
      <PanelD />
      <PanelE />

      <WeightPanel
        letter={['f', 25, 408]} title="% Weight Change (One Dose)" titleX={128} titleY={400} titleSize={8.2}
        series={fSeries} legX={82} legY={408} legStep={11.7} legSize={7.6}
        x0={46.5} x1={212} yTop={437} yBot={555} tickSize={9} xTitleSize={10} yTitleSize={10} yTitleX={28}
      />
      <WeightPanel
        letter={['g', 265, 406]} title="% Weight Change (Two Doses)" titleX={363} titleY={402} titleSize={8.6}
        series={gSeries} legX={305} legY={414} legStep={11.3} legSize={8.2}
        x0={280} x1={436} yTop={446} yBot={554} tickSize={8} xTitleSize={8.6} yTitleSize={8.4} yTitleX={260}
      />
      <WeightPanel
        letter={['h', 477, 410]} title="% Weight Change (Two Doses)" titleX={575} titleY={401} titleSize={8.2}
        series={hSeries} legX={527} legY={415} legStep={11} legSize={7.7}
        x0={494} x1={656} yTop={442} yBot={554} tickSize={8} xTitleSize={9.5} yTitleSize={8.8} yTitleX={479}
      />
    </svg>
  );
}
